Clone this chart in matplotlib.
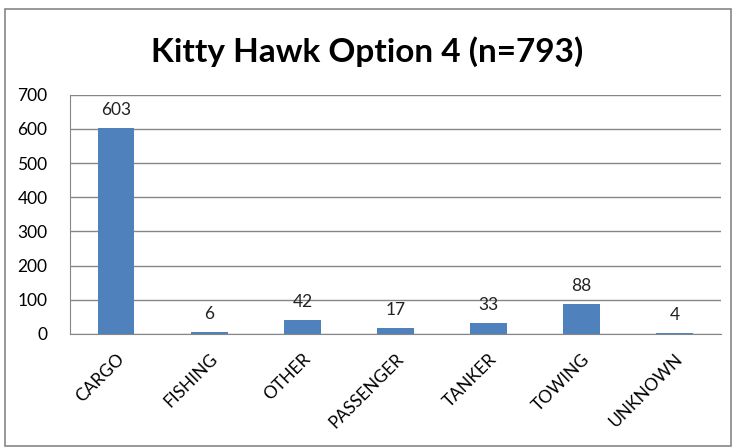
import matplotlib.pyplot as plt
from matplotlib.patches import Rectangle

categories = ['CARGO', 'FISHING', 'OTHER', 'PASSENGER', 'TANKER', 'TOWING', 'UNKNOWN']
counts = [603, 6, 42, 17, 33, 88, 4]
yticks = [0, 100, 200, 300, 400, 500, 600, 700]

plt.rcParams['font.family'] = ['Lato', 'DejaVu Sans']

fig = plt.figure(figsize=(7.35, 4.47), dpi=100)
ax = fig.add_axes([0.095, 0.253, 0.886, 0.535])

# chart border like an excel chart area
fig.patches.append(Rectangle((0.007, 0.003), 0.988, 0.977, transform=fig.transFigure,
                             fill=False, edgecolor='#868686', linewidth=1.2))

x = range(len(categories))
bars = ax.bar(x, counts, width=0.39, color='#4F81BD', zorder=3)
for b, v in zip(bars, counts):
    ax.annotate(str(v), (b.get_x() + b.get_width() / 2, v), xytext=(0, 7),
                textcoords='offset points', ha='center', va='bottom',
                fontsize=12.5, color='#222222')

ax.set_xlim(-0.5, len(categories) - 0.5)
ax.set_ylim(0, 700)
ax.set_yticks(yticks)
ax.set_yticklabels([str(t) for t in yticks], fontsize=12.5)
ax.set_xticks(list(x))
ax.set_xticklabels(categories, rotation=45, ha='right', rotation_mode='anchor', fontsize=12.5)
ax.tick_params(axis='x', length=0, pad=12)
ax.tick_params(axis='y', length=0, pad=16)

ax.grid(axis='y', color='#868686', linewidth=1, zorder=0)
for s in ['top', 'right']:
    ax.spines[s].set_visible(False)
ax.spines['left'].set_color('#868686')
ax.spines['bottom'].set_color('#868686')

fig.text(0.5, 0.885, 'Kitty Hawk Option 4 (n=793)', ha='center', va='center',
         fontsize=24, fontweight='bold')

fig.savefig('out.png', dpi=100)
